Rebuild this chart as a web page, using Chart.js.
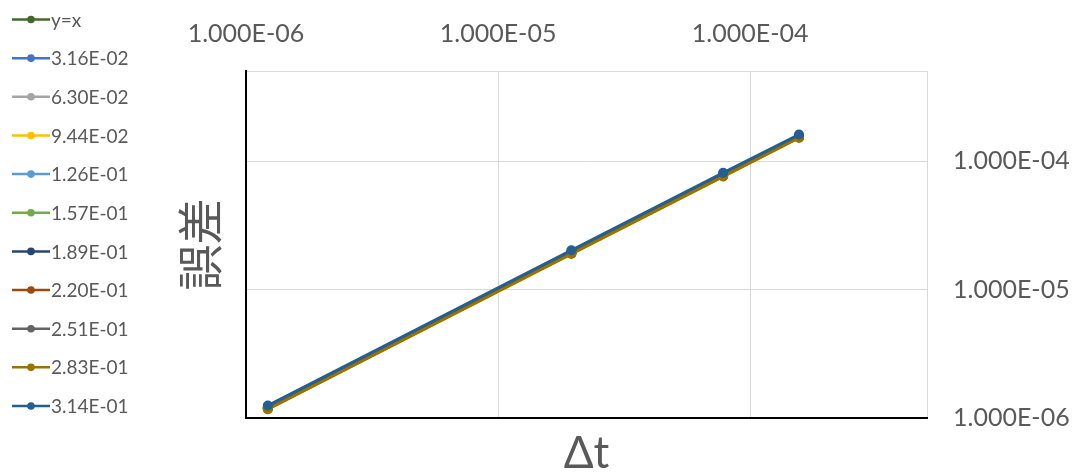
<!DOCTYPE html>
<html><head><meta charset="utf-8">
<script src="https://cdn.jsdelivr.net/npm/chart.js@4.4.1/dist/chart.umd.min.js"></script>
<style>html,body{margin:0;padding:0;background:#fff;overflow:hidden;}</style>
</head><body>
<canvas id="c" width="1078" height="473"></canvas>
<script>
// ---- data ----
const dt = [1.2207e-6, 1.9531e-5, 7.8125e-5, 1.5625e-4];
const seriesLabels = ['y=x','3.16E-02','6.30E-02','9.44E-02','1.26E-01','1.57E-01','1.89E-01','2.20E-01','2.51E-01','2.83E-01','3.14E-01'];
const seriesColors = ['#43682B','#4472C4','#A5A5A5','#FFC000','#5B9BD5','#70AD47','#264478','#9E480E','#636363','#997300','#255E91'];
const yEqX     = [1.2207e-6, 1.9531e-5, 7.8125e-5, 1.5625e-4];
const err_0316 = [1.19e-6, 1.93e-5, 7.72e-5, 1.54e-4];
const err_0630 = [1.19e-6, 1.92e-5, 7.70e-5, 1.54e-4];
const err_0944 = [1.17e-6, 1.89e-5, 7.58e-5, 1.52e-4];
const err_1260 = [1.19e-6, 1.92e-5, 7.69e-5, 1.54e-4];
const err_1570 = [1.18e-6, 1.91e-5, 7.64e-5, 1.53e-4];
const err_1890 = [1.20e-6, 1.94e-5, 7.76e-5, 1.55e-4];
const err_2200 = [1.18e-6, 1.91e-5, 7.66e-5, 1.53e-4];
const err_2510 = [1.21e-6, 1.95e-5, 7.82e-5, 1.56e-4];
const err_2830 = [1.17e-6, 1.90e-5, 7.60e-5, 1.52e-4];
const err_3140 = [1.25e-6, 2.02e-5, 8.10e-5, 1.61e-4];
const seriesValues = [yEqX, err_0316, err_0630, err_0944, err_1260, err_1570, err_1890, err_2200, err_2510, err_2830, err_3140];
const xTickValues = [1e-6, 1e-5, 1e-4];
const xTickLabels = ['1.000E-06','1.000E-05','1.000E-04'];
const yTickValues = [1e-6, 1e-5, 1e-4];
const yTickLabels = ['1.000E-06','1.000E-05','1.000E-04'];
const xTitle = 'Δt';
const yTitle = '誤差';
const axisMin = 1e-6, axisMax = 5.03e-4;

const TXT = '#595959';
const GRID = '#d9d9d9';

const datasets = seriesValues.map((vals, i) => ({
  label: seriesLabels[i],
  data: dt.map((x, j) => ({x: x, y: vals[j]})),
  borderColor: seriesColors[i],
  backgroundColor: seriesColors[i],
  borderWidth: 3,
  pointRadius: 5,
  pointHoverRadius: 5,
  pointBorderWidth: 0,
  tension: 0,
  order: seriesValues.length - i
}));

const sideLegend = {
  id: 'sideLegend',
  afterDraw(chart) {
    const ctx = chart.ctx;
    ctx.save();
    chart.data.datasets.forEach((ds, i) => {
      const y = 19.5 + i * 38.65;
      ctx.strokeStyle = ds.borderColor;
      ctx.lineWidth = 2.5;
      ctx.beginPath(); ctx.moveTo(12, y); ctx.lineTo(50, y); ctx.stroke();
      ctx.fillStyle = ds.borderColor;
      ctx.beginPath(); ctx.arc(31, y, 3.8, 0, Math.PI * 2); ctx.fill();
      ctx.fillStyle = TXT;
      ctx.font = '19px Lato';
      ctx.textBaseline = 'middle';
      ctx.textAlign = 'left';
      ctx.fillText(ds.label, 51, y + 1);
    });
    ctx.restore();
  }
};

new Chart(document.getElementById('c'), {
  type: 'line',
  data: { datasets },
  plugins: [sideLegend],
  options: {
    responsive: false,
    animation: false,
    devicePixelRatio: 1,
    layout: { padding: 0 },
    plugins: { legend: { display: false }, tooltip: { enabled: false } },
    scales: {
      x: {
        type: 'logarithmic', position: 'top', min: axisMin, max: axisMax,
        afterBuildTicks: s => { s.ticks = xTickValues.map(v => ({value: v})); },
        afterFit: s => { s.height = 71; },
        ticks: { callback: (v, i) => xTickLabels[i], color: TXT, font: {family: 'Lato', size: 25}, padding: 22, maxRotation: 0, autoSkip: false },
        grid: { color: GRID, lineWidth: 1, drawTicks: false },
        border: { color: GRID, width: 1 }
      },
      y: {
        type: 'logarithmic', position: 'right', min: axisMin, max: axisMax,
        afterBuildTicks: s => { s.ticks = yTickValues.map(v => ({value: v})); },
        afterFit: s => { s.width = 151; },
        ticks: { callback: (v, i) => yTickLabels[i], color: TXT, font: {family: 'Lato', size: 25}, padding: 26, autoSkip: false },
        grid: { color: GRID, lineWidth: 1, drawTicks: false },
        border: { color: GRID, width: 1 }
      },
      xb: {
        type: 'linear', position: 'bottom', min: 0, max: 1, display: true,
        afterFit: s => { s.height = 55; },
        ticks: { display: false },
        grid: { display: false, drawTicks: false },
        border: { color: '#000', width: 2 },
        title: { display: true, text: xTitle, color: TXT, font: {family: 'Lato', size: 44, lineHeight: 0.85}, padding: {top: 0, bottom: 0} }
      },
      yl: {
        type: 'linear', position: 'left', min: 0, max: 1, display: true,
        afterFit: s => { s.width = 246; },
        ticks: { display: false },
        grid: { display: false, drawTicks: false },
        border: { color: '#000', width: 2 },
        title: { display: true, text: yTitle, color: TXT, font: {family: 'Noto Sans CJK JP', size: 46, lineHeight: 1}, padding: {top: 177, bottom: 0} }
      }
    }
  }
});
</script>
</body></html>
